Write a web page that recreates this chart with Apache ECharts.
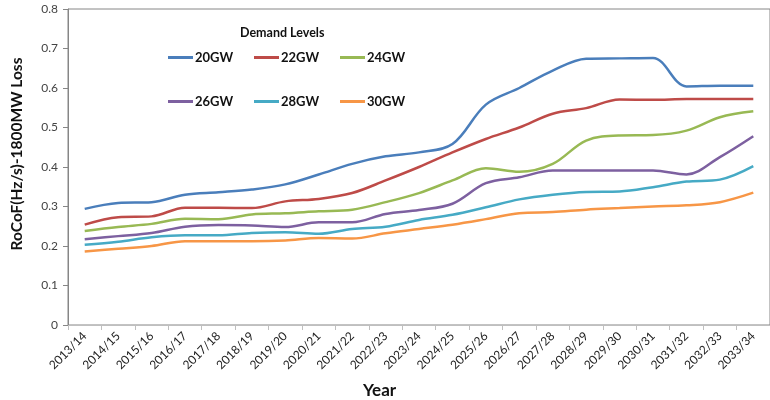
<!DOCTYPE html>
<html><head><meta charset="utf-8">
<script src="https://cdn.jsdelivr.net/npm/echarts@6/dist/echarts.min.js"></script>
<style>html,body{margin:0;padding:0;background:#fff}#c{width:770px;height:400px}</style>
</head><body><div id="c"></div>
<script>
const categories = ['2013/14','2014/15','2015/16','2016/17','2017/18','2018/19','2019/20','2020/21','2021/22','2022/23','2023/24','2024/25','2025/26','2026/27','2027/28','2028/29','2029/30','2030/31','2031/32','2032/33','2033/34'];
const gw20 = [0.294,0.309,0.311,0.330,0.336,0.343,0.356,0.381,0.408,0.427,0.437,0.458,0.558,0.600,0.644,0.674,0.675,0.676,0.604,0.606,0.606];
const gw22 = [0.254,0.273,0.275,0.297,0.297,0.296,0.313,0.319,0.334,0.366,0.400,0.437,0.471,0.500,0.535,0.549,0.571,0.570,0.572,0.572,0.572];
const gw24 = [0.238,0.248,0.256,0.269,0.268,0.280,0.283,0.288,0.292,0.311,0.334,0.366,0.397,0.388,0.408,0.467,0.480,0.481,0.492,0.526,0.541];
const gw26 = [0.217,0.225,0.233,0.249,0.253,0.252,0.248,0.260,0.260,0.281,0.291,0.307,0.359,0.374,0.391,0.391,0.391,0.391,0.381,0.425,0.478];
const gw28 = [0.203,0.211,0.222,0.227,0.227,0.233,0.235,0.231,0.243,0.249,0.266,0.279,0.298,0.318,0.330,0.337,0.338,0.349,0.363,0.368,0.402];
const gw30 = [0.186,0.193,0.200,0.212,0.212,0.212,0.214,0.220,0.219,0.232,0.243,0.254,0.268,0.283,0.286,0.292,0.296,0.300,0.303,0.311,0.335];
const seriesNames = ['20GW','22GW','24GW','26GW','28GW','30GW'];
const yTicks = [0,0.1,0.2,0.3,0.4,0.5,0.6,0.7,0.8];

const colors = ['#4A7EBB','#BE4B48','#98B954','#7D60A0','#46AAC5','#F79646'];
const font = 'Lato, "Open Sans", sans-serif';
const values = [gw20,gw22,gw24,gw26,gw28,gw30];

const legendCols = [163, 249, 335];
const legendRows = [46, 90];
const legends = seriesNames.map((n,i)=>({
  left: legendCols[i%3], top: legendRows[Math.floor(i/3)], data:[n],
  orient:'horizontal', itemWidth:25, itemHeight:3, icon:'rect', selectedMode:false,
  textStyle:{fontFamily:font,fontSize:13,fontWeight:'bold',color:'#111',padding:[0,0,0,-3]}
}));

const chart = echarts.init(document.getElementById('c'), null, {renderer:'canvas'});
chart.setOption({
  animation:false,
  color:colors,
  title:[
    {text:'Demand Levels', left:235, top:21, textStyle:{fontFamily:font,fontSize:12.5,fontWeight:'bold',color:'#111'}},
    {text:'Year', left:358, top:377, textStyle:{fontFamily:font,fontSize:17,fontWeight:'bold',color:'#111'}}
  ],
  graphic:[{
    type:'text', x:17, y:154, rotation:Math.PI/2,
    style:{text:'RoCoF(Hz/s)-1800MW Loss', font:'bold 15.5px '+font, fill:'#111', align:'center', verticalAlign:'middle', textAlign:'center', textVerticalAlign:'middle'}
  }],
  legend:legends,
  grid:{left:68, top:9, width:706, bottom:75, show:true, borderColor:'#868686', borderWidth:1},
  xAxis:{
    type:'category', data:categories, boundaryGap:true,
    axisLine:{lineStyle:{color:'#BFBFBF'}},
    axisTick:{show:true, alignWithLabel:false, length:5, lineStyle:{color:'#BFBFBF'}},
    axisLabel:{rotate:45, interval:0, fontFamily:font, fontSize:12, color:'#222', margin:9}
  },
  yAxis:{
    type:'value', min:0, max:0.8, interval:0.1,
    axisLine:{show:true,lineStyle:{color:'#868686'}},
    axisTick:{show:true,length:5,lineStyle:{color:'#868686'}},
    splitLine:{show:false},
    axisLabel:{fontFamily:font,fontSize:12,color:'#444',margin:10,
      formatter:v=>{const t=yTicks.find(x=>Math.abs(x-v)<1e-6);return t===0?'0':String(t);}}
  },
  series: seriesNames.map((n,i)=>({
    name:n, type:'line', data:values[i], smooth:0.35, showSymbol:false, symbol:'none',
    lineStyle:{width:2.5,color:colors[i]}, itemStyle:{color:colors[i]}
  }))
});
</script></body></html>
